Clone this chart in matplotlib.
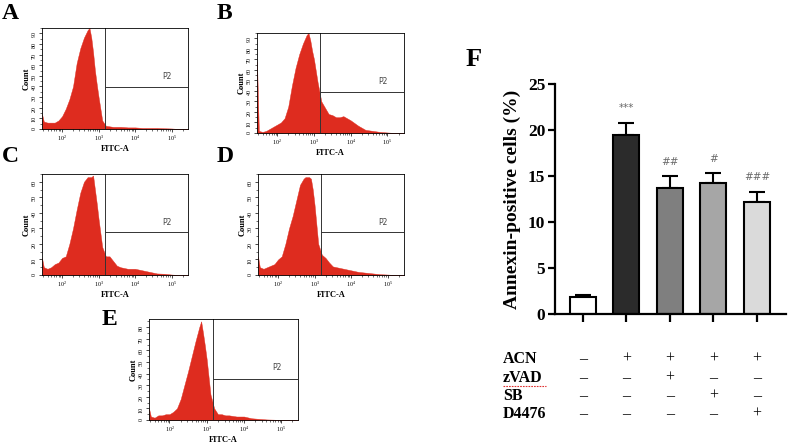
import numpy as np
import matplotlib.pyplot as plt
from matplotlib.ticker import LogLocator, NullFormatter, MultipleLocator

plt.rcParams['font.family'] = ['Liberation Serif', 'DejaVu Serif']

# flow cytometry histograms (log10 FITC-A vs count)
fitc_log = [1.45, 1.5, 1.6, 1.7, 1.8, 1.9, 2.0, 2.1, 2.2, 2.3,
            2.4, 2.5, 2.6, 2.7, 2.75, 2.8, 2.85, 2.9, 2.95, 3.0,
            3.1, 3.2, 3.3, 3.4, 3.5, 3.6, 3.7, 3.8, 3.9, 4.0,
            4.2, 4.4, 4.6, 4.8, 5.0, 5.2, 5.45]
count_a = [14, 7, 6, 6, 6, 8, 12, 19, 28, 40,
           62, 76, 86, 93, 95, 86, 72, 55, 42, 30,
           8, 3, 2.5, 2, 2, 2, 1.8, 1.5, 1.5, 1.5,
           1, 1, 1, 0.7, 0.5, 0, 0]
count_b = [68, 2, 1, 2, 4, 6, 8, 10, 14, 25,
           45, 62, 75, 85, 89, 93, 95, 88, 78, 70,
           48, 30, 24, 18, 17, 15, 15, 16, 14, 12,
           7, 3, 2, 1, 0.5, 0, 0]
count_c = [11, 5, 4, 5, 7, 8, 11, 12, 20, 30,
           42, 53, 60, 63, 63, 63, 64, 55, 46, 36,
           18, 12, 12, 9, 6, 5, 4.5, 4, 4, 4,
           3, 2, 1, 0.8, 0.3, 0, 0]
count_d = [12, 5, 4, 5, 6, 7, 10, 12, 20, 30,
           38, 48, 58, 62, 63, 63, 63, 62, 55, 45,
           20, 13, 11, 8, 5.5, 5, 4.5, 4, 3.5, 3,
           2, 1.5, 1, 0.5, 0.3, 0, 0]
count_e = [10, 3, 2, 4, 4, 5, 5, 7, 10, 18,
           30, 42, 55, 68, 74, 80, 85, 75, 64, 52,
           22, 10, 5, 5, 4, 4, 3.5, 3, 3, 3,
           1.5, 1, 0.5, 0.3, 0, 0, 0]
hist_counts = [count_a, count_b, count_c, count_d, count_e]
hist_letters = ['A', 'B', 'C', 'D', 'E']
hist_ymax = [95, 95, 65, 65, 87]
hist_ytick_top = [90, 90, 60, 60, 80]
gate_log = 3.17
gate_level = [0.42, 0.41, 0.43, 0.43, 0.41]

# bar chart F
groups = ['Control', 'ACN', 'ACN+zVAD', 'ACN+SB', 'ACN+D4476']
annexin = [1.8, 19.5, 13.7, 14.2, 12.2]
annexin_err = [0.3, 1.3, 1.3, 1.1, 1.1]
bar_colors = ['white', '#2b2b2b', '#7f7f7f', '#a6a6a6', '#dadada']
marks = ['', '***', '##', '#', '###']
treat_rows = ['ACN', 'zVAD', 'SB', 'D4476']
treat_signs = [['–', '+', '+', '+', '+'],
               ['–', '–', '+', '–', '–'],
               ['–', '–', '–', '+', '–'],
               ['–', '–', '–', '–', '+']]

W, H = 788, 443
fig = plt.figure(figsize=(W / 100, H / 100), dpi=100)


def px_rect(l, t, r, b):
    return [l / W, 1 - b / H, (r - l) / W, (b - t) / H]


hist_rects = [px_rect(42, 28, 188, 129), px_rect(257, 33, 404, 133),
              px_rect(42, 174, 188, 275), px_rect(258, 174, 404, 275),
              px_rect(149, 319, 298, 420)]
letter_pos = [(2, 3), (217, 3), (2, 146), (217, 146), (102, 309)]

for i in range(5):
    ax = fig.add_axes(hist_rects[i])
    x = 10 ** np.array(fitc_log)
    ax.fill_between(x, hist_counts[i], color='#de2c1f', lw=0.3)
    ax.set_xscale('log')
    ax.set_xlim(10 ** 1.45, 10 ** 5.45)
    ax.set_ylim(0, hist_ymax[i])
    ax.axvline(10 ** gate_log, color='#333333', lw=0.7)
    ax.plot([10 ** gate_log, 10 ** 5.45], [gate_level[i] * hist_ymax[i]] * 2,
            color='#333333', lw=0.7)
    ax.text(10 ** 4.75, 0.52 * hist_ymax[i], 'P2', fontfamily='DejaVu Sans',
            fontsize=5.5, color='#444444', va='center')
    ax.set_xticks([1e2, 1e3, 1e4, 1e5])
    ax.set_xticklabels([r'$\mathregular{10^{%d}}$' % k for k in range(2, 6)])
    ax.xaxis.set_minor_locator(LogLocator(subs=range(2, 10)))
    ax.xaxis.set_minor_formatter(NullFormatter())
    ax.set_yticks(range(0, hist_ytick_top[i] + 1, 10))
    ax.yaxis.set_minor_locator(MultipleLocator(5))
    ax.tick_params(labelsize=4.3, length=2.2, width=0.5, pad=1.5)
    ax.tick_params(which='minor', length=1.3, width=0.4)
    ax.tick_params(axis='y', labelrotation=90)
    for s in ax.spines.values():
        s.set_linewidth(0.6)
    ax.set_xlabel('FITC-A', fontsize=6, fontweight='bold', labelpad=1)
    ax.set_ylabel('Count', fontsize=6, fontweight='bold', labelpad=1)
    fig.text(letter_pos[i][0] / W, 1 - letter_pos[i][1] / H, hist_letters[i],
             fontsize=17, fontweight='bold', va='top', ha='left')

# panel F
axf = fig.add_axes(px_rect(555, 84, 786, 314))
xs = np.arange(len(groups))
axf.errorbar(xs, annexin, yerr=[np.zeros(len(xs)), annexin_err], fmt='none',
             ecolor='black', elinewidth=1.5, capsize=6, capthick=1.5, zorder=1)
axf.bar(xs, annexin, width=0.6, color=bar_colors, edgecolor='black', lw=1.5, zorder=2)
for xi, v, e, m in zip(xs, annexin, annexin_err, marks):
    if m:
        axf.text(xi, v + e + 1.0, m, ha='center', va='bottom', fontsize=7.5,
                 color='#6a6a6a', fontfamily='DejaVu Sans')
axf.set_xlim(-0.64, 4.67)
axf.set_ylim(0, 25)
axf.set_yticks([0, 5, 10, 15, 20, 25])
axf.set_xticks(xs)
axf.set_xticklabels([])
axf.spines['top'].set_visible(False)
axf.spines['right'].set_visible(False)
axf.spines['left'].set_linewidth(1.6)
axf.spines['bottom'].set_linewidth(1.6)
axf.tick_params(axis='y', length=5, width=1.6, labelsize=12.5, pad=2)
axf.tick_params(axis='x', length=6, width=1.6)
for lab in axf.get_yticklabels():
    lab.set_fontweight('bold')
axf.set_ylabel('Annexin-positive cells (%)', fontsize=14, fontweight='bold', labelpad=5)

tr = axf.get_xaxis_transform()
row_y = [-0.196, -0.278, -0.357, -0.435]
for r, name in enumerate(treat_rows):
    axf.text(-1.84, row_y[r], name, transform=tr, ha='left', va='center',
             fontsize=11.5, fontweight='bold', clip_on=False)
    for xi, sgn in zip(xs, treat_signs[r]):
        axf.text(xi, row_y[r], sgn, transform=tr, ha='center', va='center',
                 fontsize=11.5, clip_on=False)

# red spell-check underline under zVAD
fig.add_artist(plt.Line2D([503 / W, 546 / W], [1 - 386 / H] * 2, color='#e03030',
                          lw=0.8, ls=(0, (1.5, 1))))

fig.text(466 / W, 1 - 48 / H, 'F', fontsize=19, fontweight='bold', va='top', ha='left')

fig.savefig('out.png', dpi=100)
